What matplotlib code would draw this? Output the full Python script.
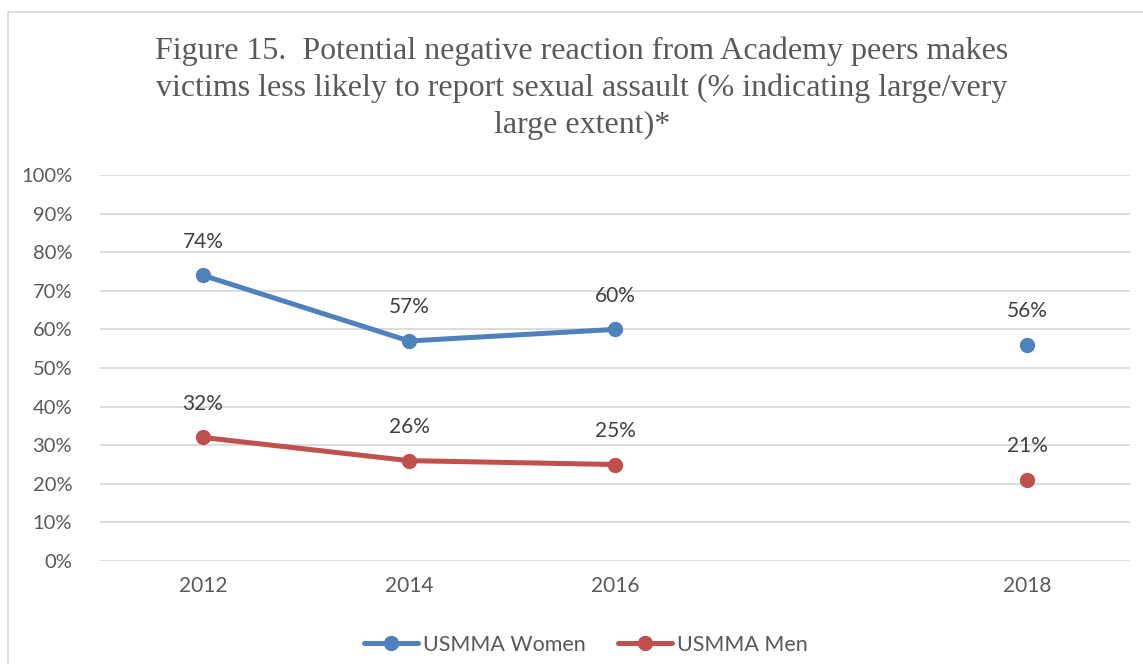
import matplotlib.pyplot as plt
from matplotlib.patches import Rectangle

# data
years = ['2012', '2014', '2016', '', '2018']
women = [74, 57, 60, None, 56]
men = [32, 26, 25, None, 21]
series_names = ['USMMA Women', 'USMMA Men']
title = ('Figure 15.  Potential negative reaction from Academy peers makes\n'
         'victims less likely to report sexual assault (% indicating large/very\n'
         'large extent)*')

blue = '#4F81BD'
red = '#C0504D'
grey = '#595959'

fig = plt.figure(figsize=(11.43, 6.64), dpi=100)
fig.patches.append(Rectangle((8/1143, -0.1), 1.2, 1 - 12/664 + 0.1, transform=fig.transFigure,
                             fill=False, edgecolor='#D9D9D9', linewidth=1.2))
ax = fig.add_axes([100/1143, 1 - 561/664, 1030/1143, 386/664])

x = list(range(len(years)))
for vals, col, name in [(women, blue, series_names[0]), (men, red, series_names[1])]:
    xs = [i for i, v in zip(x, vals) if v is not None]
    ys = [v for v in vals if v is not None]
    # 2018 is not connected to the rest (empty category before it)
    ax.plot(xs[:3], ys[:3], color=col, lw=3.6, marker='o', ms=10, label=name, solid_capstyle='round')
    ax.plot(xs[3:], ys[3:], color=col, lw=0, marker='o', ms=10)
    for xi, yi in zip(xs, ys):
        ax.annotate(f'{yi}%', (xi, yi), xytext=(0, 17), textcoords='offset points',
                    ha='center', va='bottom', fontsize=15, color='#404040', family='Lato')

ax.set_xlim(-0.5, len(years) - 0.5)
ax.set_ylim(0, 100)
ax.set_yticks(range(0, 101, 10))
ax.set_yticklabels([f'{v}%' for v in range(0, 101, 10)], family='Lato', fontsize=14.5, color=grey)
ax.set_xticks(x)
ax.set_xticklabels(years, family='Lato', fontsize=15, color=grey)
ax.tick_params(length=0)
ax.tick_params(axis='x', pad=11)
ax.tick_params(axis='y', pad=20)
ax.grid(axis='y', color='#D9D9D9', lw=1.3)
ax.set_axisbelow(True)
for s in ax.spines.values():
    s.set_visible(False)

fig.text(582/1143, 1 - 37/664, title, ha='center', va='top', family='Liberation Serif',
         fontsize=23, color=grey, linespacing=1.33)

leg = fig.legend(loc='center', bbox_to_anchor=(586/1143, 1 - 645/664), ncol=2, frameon=False,
                 prop={'family': 'Lato', 'size': 15.5}, handlelength=2.5, columnspacing=1.5,
                 handletextpad=0.25)
for t in leg.get_texts():
    t.set_color(grey)

fig.savefig('out.png', dpi=100)
